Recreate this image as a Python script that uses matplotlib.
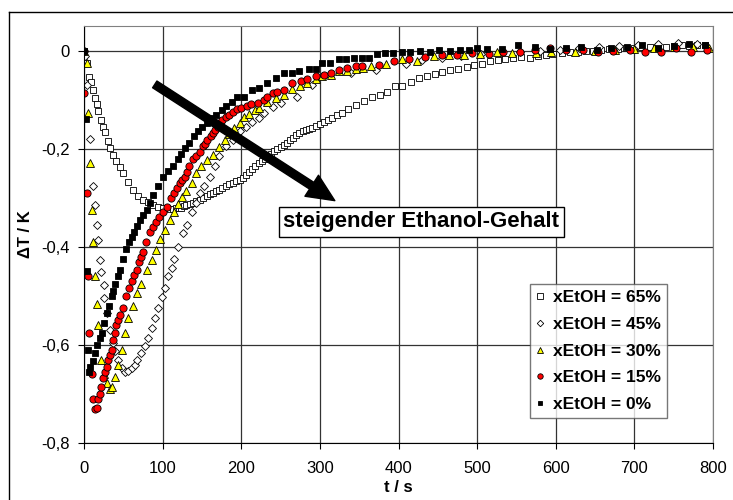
import matplotlib
matplotlib.use('Agg')
from matplotlib import pyplot as plt
from matplotlib.lines import Line2D
from matplotlib.ticker import FuncFormatter

plt.rcParams['font.family'] = ['Liberation Sans', 'DejaVu Sans']

# xEtOH = 65% (open squares)
t_65 = [0, 3.5, 6, 9, 12, 14, 16, 18, 21, 24, 27, 30, 33, 37, 41, 46, 50, 56, 62, 69,
        75, 82, 88, 94, 100, 105, 109, 113, 117, 121, 124, 127, 130, 135, 139, 143, 147, 151, 156, 160,
        164, 168, 172, 176, 181, 185, 189, 193, 198, 202, 206, 210, 214, 218, 222, 226, 230, 234, 238, 242,
        246, 250, 254, 258, 262, 266, 270, 274, 278, 282, 286, 290, 295, 300, 305, 310, 316, 322, 328, 336,
        346, 356, 366, 376, 386, 396, 405, 416, 426, 436, 446, 455, 466, 476, 487, 496, 506, 517, 526, 536,
        546, 556, 567, 577, 587, 597, 608, 618, 628, 638, 648, 658, 668, 679, 689, 699, 709, 720, 730, 740,
        750, 760, 770, 780, 790]
dT_65 = [0, -0.025, -0.053, -0.065, -0.08, -0.096, -0.11, -0.124, -0.141, -0.155, -0.167, -0.185, -0.198, -0.212, -0.226, -0.238, -0.25, -0.267, -0.284, -0.297,
         -0.304, -0.308, -0.314, -0.318, -0.32, -0.322, -0.323, -0.323, -0.322, -0.321, -0.32, -0.317, -0.314, -0.312, -0.31, -0.307, -0.304, -0.3, -0.297, -0.293,
         -0.29, -0.287, -0.284, -0.281, -0.277, -0.273, -0.27, -0.266, -0.263, -0.259, -0.254, -0.248, -0.242, -0.236, -0.23, -0.226, -0.221, -0.215, -0.21, -0.205,
         -0.2, -0.197, -0.193, -0.188, -0.183, -0.178, -0.173, -0.168, -0.165, -0.162, -0.159, -0.157, -0.154, -0.15, -0.146, -0.142, -0.137, -0.132, -0.127, -0.12,
         -0.111, -0.102, -0.095, -0.09, -0.084, -0.072, -0.073, -0.065, -0.057, -0.052, -0.047, -0.043, -0.04, -0.037, -0.033, -0.03, -0.027, -0.022, -0.02, -0.017,
         -0.016, -0.014, -0.016, -0.012, -0.01, -0.008, -0.005, -0.004, -0.002, -0.001, 0.0, 0.002, 0.003, 0.004, 0.005, 0.006, 0.008, 0.008, 0.01, 0.008,
         0.01, 0.012, 0.01, 0.012, 0.012]

# xEtOH = 45% (open diamonds)
t_45 = [0, 1, 4, 7.6, 12, 14, 16, 18, 20, 22, 25, 26, 29, 33, 37, 40, 43, 48, 52, 56,
        61, 65, 68, 73, 77, 81, 86, 90, 94, 99, 103, 107, 112, 115, 120, 126, 131, 137, 143, 147,
        153, 160, 166, 172, 181, 189, 198, 206, 214, 223, 229, 240, 251, 271, 290, 312, 340, 371, 409, 430,
        455, 480, 505, 530, 555, 580, 605, 630, 655, 680, 705, 730, 755, 780]
dT_45 = [0, -0.012, -0.07, -0.18, -0.277, -0.314, -0.355, -0.386, -0.427, -0.451, -0.478, -0.505, -0.535, -0.57, -0.597, -0.612, -0.63, -0.647, -0.655, -0.654,
         -0.647, -0.64, -0.63, -0.617, -0.603, -0.585, -0.565, -0.545, -0.525, -0.502, -0.484, -0.46, -0.443, -0.424, -0.4, -0.372, -0.355, -0.33, -0.31, -0.29,
         -0.277, -0.257, -0.236, -0.216, -0.195, -0.182, -0.165, -0.155, -0.145, -0.137, -0.127, -0.115, -0.106, -0.094, -0.07, -0.049, -0.045, -0.039, -0.028, -0.02,
         -0.015, -0.012, -0.008, -0.005, -0.002, 0.0, 0.002, 0.006, 0.008, 0.01, 0.012, 0.014, 0.015, 0.013]

# xEtOH = 30% (yellow triangles)
t_30 = [0, 4, 5, 8, 10, 12, 14, 16, 18, 21, 25, 29, 33, 36, 39, 43, 48, 52, 56, 62,
        67, 73, 80, 86, 92, 97, 103, 109, 115, 120, 125, 130, 137, 143, 149, 156, 164, 172, 179, 185,
        191, 198, 204, 210, 217, 223, 233, 244, 255, 265, 275, 284, 295, 303, 314, 324, 335, 346, 355, 365,
        384, 405, 424, 445, 464, 483, 504, 525, 544, 575, 594, 624, 650, 675, 700, 725, 750, 775, 795]
dT_30 = [0, -0.025, -0.127, -0.23, -0.325, -0.39, -0.46, -0.516, -0.56, -0.63, -0.66, -0.677, -0.69, -0.685, -0.665, -0.64, -0.61, -0.575, -0.545, -0.52,
         -0.495, -0.475, -0.447, -0.427, -0.406, -0.385, -0.365, -0.345, -0.33, -0.313, -0.298, -0.287, -0.27, -0.25, -0.236, -0.224, -0.212, -0.197, -0.182, -0.17,
         -0.157, -0.147, -0.136, -0.13, -0.122, -0.117, -0.104, -0.096, -0.09, -0.078, -0.072, -0.066, -0.059, -0.052, -0.049, -0.042, -0.041, -0.037, -0.035, -0.032,
         -0.027, -0.018, -0.022, -0.012, -0.01, -0.01, -0.008, -0.004, -0.005, -0.005, -0.002, -0.002, 0.0, 0.002, 0.004, 0.006, 0.008, 0.008, 0.006]

# xEtOH = 15% (red circles)
t_15 = [0, 0.5, 3.5, 5, 6, 10, 12, 14, 16, 18, 20, 22, 24, 27, 29, 31, 33, 35, 37, 39,
        41, 43, 46, 50, 54, 57, 61, 64, 67, 70, 73, 75, 79, 84, 88, 92, 96, 100, 105, 111,
        115, 118, 122, 125, 128, 131, 134, 138, 143, 147, 151, 154, 157, 161, 164, 167, 170, 173, 176, 181,
        185, 190, 194, 200, 207, 213, 221, 229, 233, 240, 246, 255, 265, 276, 284, 295, 305, 314, 324, 335,
        346, 354, 375, 394, 413, 434, 455, 474, 493, 515, 533, 555, 574, 593, 613, 635, 654, 673, 694, 713,
        734, 753, 772, 793]
dT_15 = [0, -0.086, -0.29, -0.46, -0.575, -0.66, -0.71, -0.73, -0.728, -0.71, -0.7, -0.685, -0.668, -0.655, -0.645, -0.63, -0.62, -0.61, -0.59, -0.575,
         -0.56, -0.55, -0.54, -0.525, -0.5, -0.485, -0.47, -0.458, -0.447, -0.432, -0.42, -0.41, -0.39, -0.37, -0.36, -0.35, -0.34, -0.33, -0.318, -0.3,
         -0.29, -0.28, -0.27, -0.263, -0.257, -0.247, -0.236, -0.222, -0.215, -0.207, -0.195, -0.19, -0.182, -0.175, -0.168, -0.162, -0.155, -0.148, -0.141, -0.136,
         -0.131, -0.125, -0.12, -0.117, -0.113, -0.11, -0.106, -0.1, -0.094, -0.086, -0.084, -0.08, -0.066, -0.063, -0.059, -0.052, -0.049, -0.045, -0.039, -0.035,
         -0.032, -0.032, -0.029, -0.022, -0.018, -0.013, -0.01, -0.01, -0.006, -0.008, -0.002, -0.002, 0.002, 0.006, 0.002, 0.002, -0.002, 0.0, 0.002, -0.002,
         -0.002, 0.006, -0.002, 0.002]

# xEtOH = 0% (black squares)
t_0 = [0, 2, 4, 5, 6, 8, 11, 14, 17, 20, 23, 26, 29, 32, 35, 37, 40, 43, 46, 50,
       54, 57, 61, 64, 67, 71, 75, 80, 84, 88, 94, 100, 107, 113, 119, 124, 129, 134, 140, 145,
       150, 156, 162, 168, 175, 181, 188, 194, 204, 214, 223, 233, 244, 255, 265, 274, 286, 295, 303, 313,
       324, 333, 343, 353, 363, 373, 383, 393, 404, 415, 427, 440, 452, 465, 478, 490, 500, 513, 532, 552,
       574, 593, 613, 632, 652, 670, 690, 710, 730, 750, 770, 790]
dT_0 = [0, -0.14, -0.45, -0.61, -0.655, -0.645, -0.632, -0.617, -0.6, -0.585, -0.575, -0.555, -0.535, -0.52, -0.5, -0.49, -0.475, -0.46, -0.447, -0.425,
        -0.405, -0.39, -0.38, -0.37, -0.357, -0.345, -0.335, -0.325, -0.31, -0.295, -0.277, -0.257, -0.245, -0.236, -0.222, -0.21, -0.198, -0.188, -0.175, -0.165,
        -0.155, -0.147, -0.138, -0.131, -0.122, -0.114, -0.104, -0.094, -0.094, -0.08, -0.076, -0.066, -0.055, -0.045, -0.045, -0.042, -0.037, -0.037, -0.025, -0.025,
        -0.018, -0.018, -0.015, -0.015, -0.015, -0.008, -0.006, -0.006, -0.002, -0.004, 0.0, -0.002, 0.002, 0.0, 0.002, 0.002, 0.006, 0.004, 0.004, 0.012,
        0.008, 0.004, 0.006, 0.008, 0.002, 0.006, 0.008, 0.012, 0.006, 0.01, 0.014, 0.012]

labels = ['xEtOH = 65%', 'xEtOH = 45%', 'xEtOH = 30%', 'xEtOH = 15%', 'xEtOH = 0%']

# one style per series, drawn in legend order (65% at the bottom)
series = [
    (t_65, dT_65, dict(marker='s', ms=5.0, mfc='white', mec='black', mew=0.6)),
    (t_45, dT_45, dict(marker='D', ms=4.4, mfc='white', mec='black', mew=0.6)),
    (t_30, dT_30, dict(marker='^', ms=5.8, mfc='#FFFF00', mec='black', mew=0.6)),
    (t_15, dT_15, dict(marker='o', ms=5.2, mfc='#FF0000', mec='black', mew=0.6)),
    (t_0, dT_0, dict(marker='s', ms=4.8, mfc='black', mec='black', mew=0.6)),
]

fig = plt.figure(figsize=(7.33, 5.0), dpi=100)
ax = fig.add_axes([84/733, 1-443/500, (713-84)/733, (443-26)/500])

for (t, dT, kw), label in zip(series, labels):
    ax.plot(t, dT, linestyle='none', label=label, **kw)

ax.set_xlim(0, 800)
ax.set_ylim(-0.8, 0.05)
ax.set_xticks(range(0, 801, 100))
ax.set_yticks([-0.8, -0.6, -0.4, -0.2, 0])
ax.yaxis.set_major_formatter(FuncFormatter(lambda v, pos: '0' if abs(v) < 1e-9 else '{:.1f}'.format(v).replace('.', ',')))
ax.grid(True, color='#333333', linewidth=0.9)
ax.set_axisbelow(True)
ax.tick_params(direction='out', length=4, width=0.8, labelsize=12, colors='black')
ax.tick_params(axis='x', pad=9)
ax.tick_params(axis='y', pad=6)
for side in ['top', 'right']:
    ax.spines[side].set_color('#808080')
for side in ['left', 'bottom']:
    ax.spines[side].set_color('black')

ax.set_xlabel('t / s', fontsize=12, fontweight='bold', labelpad=3)
ax.set_ylabel('\u0394T / K', fontsize=12, fontweight='bold', labelpad=6)

# arrow and its caption
ax.annotate('', xy=(319, -0.306), xytext=(90, -0.069),
            arrowprops=dict(arrowstyle='simple,head_length=1.1,head_width=1.0,tail_width=0.32',
                            mutation_scale=18, color='black', shrinkA=0, shrinkB=0), zorder=10)
ax.text(429, -0.349, 'steigender Ethanol-Gehalt', ha='center', va='center',
        fontsize=16, fontweight='bold', zorder=11,
        bbox=dict(boxstyle='square,pad=0.2', fc='white', ec='black', lw=1))

leg = ax.legend(loc='lower left', bbox_to_anchor=(530/733, 1-418/500), bbox_transform=fig.transFigure,
                borderaxespad=0, frameon=True, fancybox=False, edgecolor='#555555',
                prop={'weight': 'bold', 'size': 12.5}, handlelength=0.5, handletextpad=0.45,
                labelspacing=0.66, borderpad=0.35, markerscale=0.75)
leg.get_frame().set_linewidth(1)

# outer chart frame, cut by the image edges on the right and bottom
fig.add_artist(Line2D([9/733, 9/733], [0, 1-12/500], transform=fig.transFigure, color='black', lw=1))
fig.add_artist(Line2D([9/733, 1], [1-12/500, 1-12/500], transform=fig.transFigure, color='black', lw=1))

fig.savefig('out.png', dpi=100)
